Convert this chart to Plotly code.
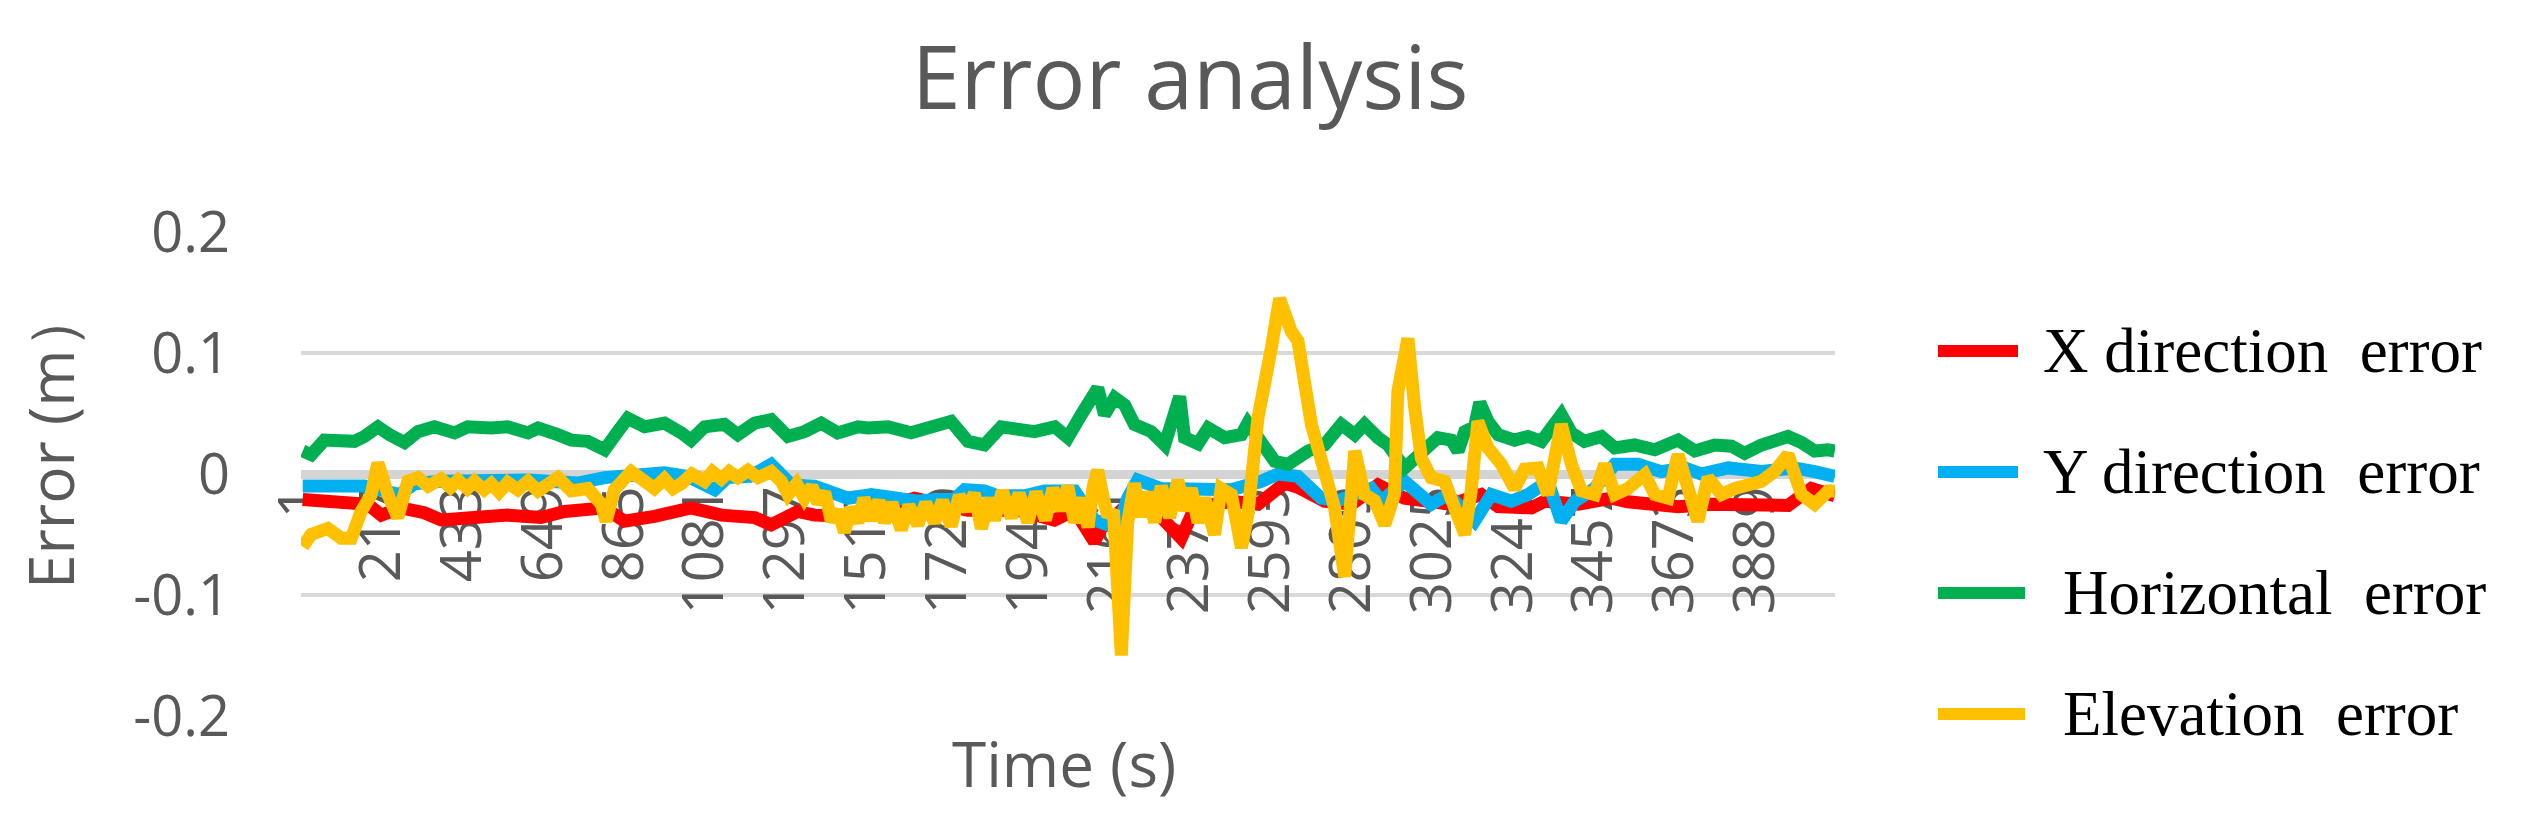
import plotly.graph_objects as go

# ==============================
#  Data (time in s, error in m)
# ==============================
x_dir_t = [5, 63, 134, 179, 215, 268, 330, 375, 464, 553,
           642, 705, 812, 865, 945, 1043, 1124, 1213, 1257, 1328,
           1373, 1480, 1640, 1783, 1917, 2014, 2068, 2121, 2139, 2193,
           2282, 2353, 2389, 2487, 2558, 2630, 2665, 2701, 2736, 2808,
           2879, 2950, 3075, 3155, 3200, 3289, 3325, 3414, 3503, 3547,
           3681, 3770, 3859, 3975, 4037, 4100]
x_dir_err = [-0.021, -0.0225, -0.0225, -0.025, -0.034, -0.028, -0.032, -0.038, -0.036, -0.034,
             -0.036, -0.031, -0.028, -0.039, -0.035, -0.028, -0.034, -0.036, -0.042, -0.031,
             -0.034, -0.035, -0.020, -0.030, -0.030, -0.038, -0.030, -0.056, -0.045, -0.030,
             -0.030, -0.053, -0.028, -0.0225, -0.025, -0.0075, -0.011, -0.018, -0.0225, -0.025,
             -0.009, -0.020, -0.025, -0.017, -0.027, -0.028, -0.0225, -0.025, -0.020, -0.023,
             -0.027, -0.025, -0.025, -0.026, -0.012, -0.018]

y_dir_t = [5, 63, 126, 170, 264, 304, 375, 464, 527, 607,
           660, 740, 812, 901, 972, 1034, 1106, 1140, 1200, 1257,
           1311, 1373, 1435, 1462, 1525, 1605, 1649, 1694, 1747, 1774,
           1827, 1863, 1934, 1988, 2068, 2121, 2184, 2210, 2237, 2300,
           2407, 2487, 2567, 2612, 2665, 2692, 2727, 2772, 2861, 2888,
           2950, 3021, 3066, 3137, 3182, 3235, 3280, 3333, 3369, 3405,
           3458, 3512, 3574, 3636, 3699, 3743, 3815, 3904, 3993, 4046,
           4100]
y_dir_err = [-0.010, -0.010, -0.010, -0.010, -0.017, -0.008, -0.006, -0.005, -0.005, -0.005,
             -0.006, -0.0075, -0.003, -0.001, 0.001, -0.002, -0.013, -0.003, -0.002, 0.008,
             -0.009, -0.010, -0.017, -0.020, -0.017, -0.021, -0.0225, -0.021, -0.021, -0.013,
             -0.014, -0.018, -0.018, -0.014, -0.014, -0.038, -0.045, -0.020, -0.005, -0.012,
             -0.014, -0.013, -0.006, 0.0, -0.002, -0.009, -0.020, -0.022, -0.012, -0.0225,
             -0.006, -0.025, -0.017, -0.039, -0.017, -0.0225, -0.017, -0.006, -0.039, -0.0225,
             -0.012, 0.008, 0.008, 0.002, 0.005, 0.0, 0.005, 0.002, 0.005, 0.002,
             -0.002]

horiz_t = [5, 28, 63, 108, 143, 170, 206, 237, 277, 313,
           357, 411, 446, 509, 553, 607, 634, 687, 723, 767,
           812, 847, 874, 919, 972, 1017, 1043, 1079, 1132, 1168,
           1213, 1257, 1302, 1346, 1391, 1435, 1489, 1516, 1569, 1631,
           1694, 1738, 1783, 1827, 1872, 1917, 1961, 2015, 2050, 2086,
           2130, 2148, 2175, 2202, 2228, 2273, 2309, 2349, 2362, 2398,
           2425, 2469, 2514, 2531, 2576, 2603, 2638, 2665, 2692, 2736,
           2781, 2817, 2843, 2879, 2906, 2950, 2986, 3021, 3039, 3075,
           3093, 3111, 3137, 3151, 3173, 3200, 3244, 3280, 3316, 3369,
           3396, 3431, 3476, 3512, 3565, 3619, 3681, 3726, 3779, 3824,
           3859, 3904, 3975, 4011, 4046, 4082, 4100]
horiz_err = [0.019, 0.016, 0.028, 0.026, 0.027, 0.031, 0.039, 0.0325, 0.026, 0.035,
             0.039, 0.034, 0.039, 0.038, 0.039, 0.034, 0.038, 0.0325, 0.028, 0.027,
             0.020, 0.035, 0.046, 0.039, 0.042, 0.034, 0.028, 0.039, 0.041, 0.0325,
             0.042, 0.045, 0.031, 0.035, 0.042, 0.034, 0.039, 0.038, 0.039, 0.034,
             0.041, 0.0435, 0.027, 0.024, 0.039, 0.037, 0.035, 0.039, 0.030, 0.049,
             0.071, 0.049, 0.063, 0.057, 0.041, 0.035, 0.024, 0.064, 0.030, 0.025,
             0.038, 0.030, 0.0325, 0.042, 0.024, 0.0105, 0.008, 0.013, 0.019, 0.024,
             0.041, 0.0325, 0.041, 0.030, 0.024, 0.005, 0.016, 0.024, 0.030, 0.028,
             0.019, 0.035, 0.039, 0.059, 0.0435, 0.0325, 0.028, 0.031, 0.027, 0.049,
             0.034, 0.027, 0.031, 0.0215, 0.024, 0.020, 0.028, 0.019, 0.024, 0.023,
             0.017, 0.024, 0.031, 0.026, 0.019, 0.020, 0.019]

elev_t = [5, 28, 72, 108, 135, 161, 188, 206, 233, 259, 286,
          313, 340, 375, 400, 420, 445, 464, 490, 509, 530, 553, 580, 607, 634,
          687, 723, 767, 803, 816, 838, 883,
          919, 945, 972, 995, 1017, 1045, 1079, 1100, 1124, 1145, 1168, 1195, 1222, 1257, 1284,
          1302, 1325, 1346, 1366, 1382, 1400, 1418, 1436, 1453, 1470,
          1489, 1505, 1525, 1545, 1560, 1580, 1605, 1625, 1649, 1670,
          1694, 1715, 1738, 1760, 1783, 1800, 1819, 1840, 1854, 1875,
          1899, 1920, 1943, 1965, 1990, 2010, 2032, 2050, 2068, 2088,
          2104, 2118, 2130, 2145, 2157, 2172, 2193, 2210, 2228, 2246,
          2264, 2282, 2300, 2322, 2344, 2362, 2380, 2398, 2416,
          2442, 2460, 2487, 2514, 2531, 2558, 2594, 2616, 2647, 2665,
          2701, 2736, 2763, 2790, 2817, 2843, 2870, 2897, 2923, 2932,
          2959, 2977, 2995, 3021, 3057, 3084, 3111, 3128, 3146, 3173,
          3209, 3244, 3271, 3307, 3333, 3369, 3396, 3423, 3458, 3485,
          3512, 3547, 3592, 3619, 3654, 3681, 3708, 3734, 3761, 3797,
          3832, 3868, 3904, 3939, 3975, 4011, 4046, 4082, 4100]
elev_err = [-0.060, -0.050, -0.045, -0.053, -0.053, -0.031, -0.017, 0.009, -0.017, -0.036, -0.006,
            -0.003, -0.010, -0.004, -0.011, -0.005, -0.012, -0.006, -0.013, -0.008, -0.015, -0.007, -0.013, -0.006, -0.014,
            -0.003, -0.014, -0.012, -0.025, -0.039, -0.013, 0.002,
            -0.006, -0.012, -0.004, -0.012, -0.008, 0.0, -0.006, 0.002, -0.004, 0.002, -0.003, 0.003, -0.003, 0.002, -0.006,
            -0.017, -0.008, -0.020, -0.010, -0.024, -0.015, -0.039, -0.030, -0.048, -0.028,
            -0.040, -0.020, -0.038, -0.022, -0.040, -0.024, -0.046, -0.026, -0.042, -0.024,
            -0.040, -0.022, -0.043, -0.018, -0.030, -0.016, -0.045, -0.020, -0.038, -0.014,
            -0.036, -0.016, -0.040, -0.015, -0.038, -0.012, -0.030, -0.010, -0.040, -0.020,
            -0.044, -0.010, 0.003, -0.020, -0.035, -0.030, -0.150, -0.040, -0.008, -0.035,
            -0.015, -0.040, -0.010, -0.036, -0.005, -0.030, -0.012, -0.040, -0.020,
            -0.050, -0.012, -0.017, -0.061, -0.034, 0.046, 0.104, 0.145, 0.118, 0.110,
            0.041, 0.002, -0.028, -0.085, 0.019, -0.017, -0.022, -0.042, -0.017, 0.068,
            0.112, 0.055, 0.013, -0.003, -0.006, -0.028, -0.050, -0.014, 0.0435, 0.0215,
            0.008, -0.012, 0.004, 0.005, -0.017, 0.041, 0.008, -0.014, -0.017, 0.008,
            -0.017, -0.012, -0.0005, -0.017, -0.020, 0.016, -0.012, -0.039, -0.003, -0.017,
            -0.012, -0.009, -0.006, 0.002, 0.016, -0.017, -0.025, -0.014, -0.014]

series_names = ["X direction  error", "Y direction  error", "Horizontal  error", "Elevation  error"]
series_colors = ["#FF0000", "#00B0F0", "#00B050", "#FFC000"]

time_ticks = [1, 217, 433, 649, 865, 1081, 1297, 1513, 1729, 1945,
              2161, 2377, 2593, 2809, 3025, 3241, 3457, 3673, 3889]
err_ticks = [-0.2, -0.1, 0, 0.1, 0.2]
err_tick_text = ["-0.2", "-0.1", "0", "0.1", "0.2"]

# ==============================
#  Page geometry (pixels)
# ==============================
W, H = 2526, 830
L, R, T, B = 293, 699, 224, 122
GREY = "#595959"


def paper_x(px):
    return (px - L) / (W - L - R)


def paper_y(py):
    return (H - B - py) / (H - T - B)


# ==============================
#  Traces
# ==============================
fig = go.Figure()
all_t = [x_dir_t, y_dir_t, horiz_t, elev_t]
all_err = [x_dir_err, y_dir_err, horiz_err, elev_err]
for name, t, err, color in zip(series_names, all_t, all_err, series_colors):
    assert len(t) == len(err), name
    fig.add_trace(
        go.Scatter(
            x=t,
            y=err,
            mode="lines",
            name=name,
            line=dict(color=color, width=13),
            showlegend=False,
        )
    )

# ==============================
#  Hand-made legend (long swatches, serif text like the source)
# ==============================
legend_rows = [343, 464, 585, 706]
swatch_end = [2010, 2010, 2017, 2017]
text_start = [2033, 2033, 2053, 2053]
for name, color, yrow, x_end, x_txt in zip(series_names, series_colors, legend_rows, swatch_end, text_start):
    fig.add_shape(
        type="line", xref="paper", yref="paper",
        x0=paper_x(1930), x1=paper_x(x_end), y0=paper_y(yrow), y1=paper_y(yrow),
        line=dict(color=color, width=12),
    )
    fig.add_annotation(
        x=paper_x(x_txt), y=paper_y(yrow), xref="paper", yref="paper",
        text=name, showarrow=False, xanchor="left", yanchor="middle",
        font=dict(family="Liberation Serif", size=63, color="black"),
    )

# ==============================
#  Axis titles
# ==============================
fig.add_annotation(
    x=paper_x(1056), y=paper_y(755), xref="paper", yref="paper",
    text="Time (s)", showarrow=False, xanchor="center", yanchor="middle",
    font=dict(family="Open Sans", size=62, color=GREY),
)
fig.add_annotation(
    x=paper_x(42), y=paper_y(430), xref="paper", yref="paper",
    text="Error (m）", textangle=-90, showarrow=False,
    xanchor="center", yanchor="middle",
    font=dict(family="Open Sans", size=62, color=GREY),
)

# ==============================
#  Axes
# ==============================
fig.update_xaxes(
    range=[0.5, 4100.5],
    tickmode="array",
    tickvals=time_ticks,
    ticktext=[str(v) for v in time_ticks],
    tickangle=-90,
    anchor="free",
    position=0.5,  # axis sits on the zero line
    showgrid=False,
    zeroline=False,
    showline=False,
    ticks="",
    ticklabelstandoff=0,
    layer="below traces",
    tickfont=dict(family="Open Sans", size=56, color=GREY),
)
fig.update_yaxes(
    range=[-0.2, 0.2],
    tickmode="array",
    tickvals=err_ticks,
    ticktext=err_tick_text,
    showgrid=True,
    gridcolor="#d9d9d9",
    gridwidth=4,
    zeroline=True,
    zerolinecolor="#d4d4d4",
    zerolinewidth=9,
    showline=False,
    ticks="",
    ticklabelstandoff=70,
    layer="below traces",
    tickfont=dict(family="Open Sans", size=56, color=GREY),
)

# ==============================
#  Layout
# ==============================
fig.update_layout(
    width=W,
    height=H,
    margin=dict(l=L, r=R, t=T, b=B),
    paper_bgcolor="white",
    plot_bgcolor="white",
    showlegend=False,
    title=dict(
        text="Error analysis",
        x=1182 / W,
        xref="container",
        xanchor="center",
        y=1 - 70 / H,
        yref="container",
        yanchor="middle",
        font=dict(family="Open Sans", size=88, color=GREY),
    ),
)

fig.write_html("out.html")
